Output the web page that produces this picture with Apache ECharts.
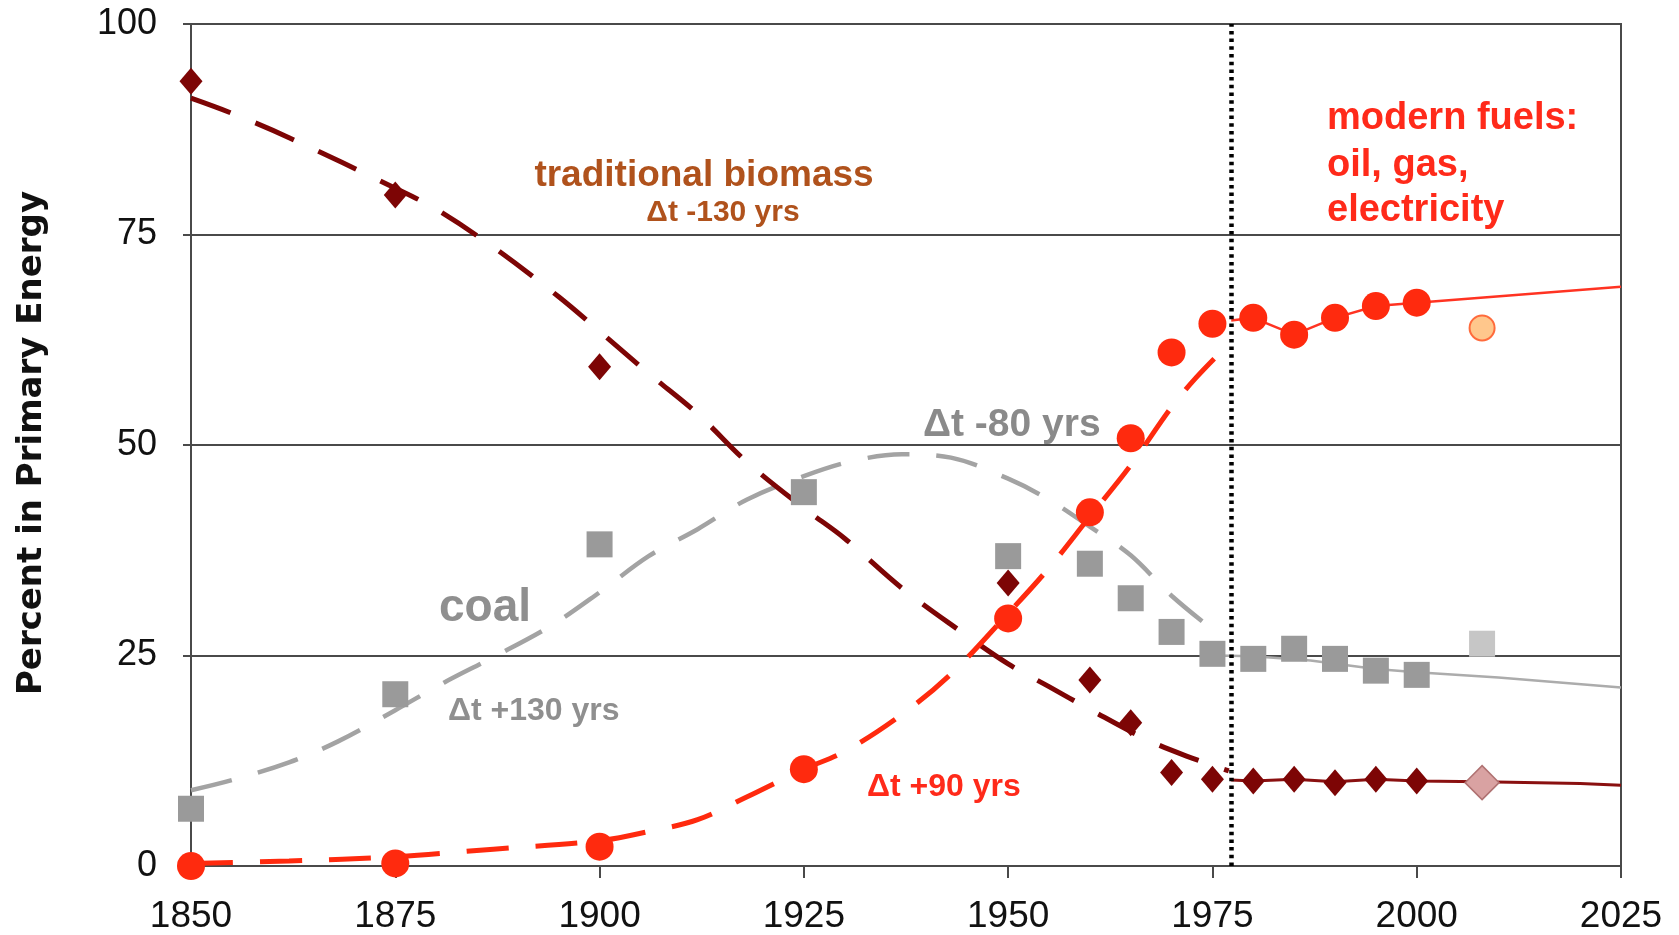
<!DOCTYPE html>
<html>
<head>
<meta charset="utf-8">
<script src="https://cdn.jsdelivr.net/npm/echarts@6/dist/echarts.min.js"></script>
<style>
html,body{margin:0;padding:0;background:#ffffff;}
#c{width:1679px;height:935px;}
</style>
</head>
<body>
<div id="c"></div>
<script>
// ---------- data ----------
const xTicks = [1850, 1875, 1900, 1925, 1950, 1975, 2000, 2025];
const yTicks = [0, 25, 50, 75, 100];

const obsYears   = [1850, 1875, 1900, 1925, 1950, 1960, 1965, 1970, 1975, 1980, 1985, 1990, 1995, 2000];
const biomassObs = [93.2, 79.7, 59.3, null, 33.6, 22.1, 17.0, 11.1, 10.3, 10.1, 10.3, 9.9, 10.3, 10.1];
const coalObs    = [6.8, 20.4, 38.2, 44.4, 36.8, 35.9, 31.8, 27.8, 25.2, 24.6, 25.8, 24.6, 23.2, 22.7];
const modernObs  = [0.0, 0.3, 2.3, 11.5, 29.4, 42.0, 50.8, 61.0, 64.4, 65.1, 63.1, 65.1, 66.5, 66.9];

const recentYears   = [2008];
const biomassRecent = [9.9];
const coalRecent    = [26.4];
const modernRecent  = [63.9];

const biomassFitYears = [1850, 1855, 1862, 1875, 1880, 1887, 1895, 1900, 1906, 1912, 1918, 1925, 1930, 1937, 1944, 1950, 1955, 1960, 1967, 1972, 1977];
const biomassFit      = [91.2, 89.4, 86.5, 80.5, 78.0, 73.5, 67.6, 63.5, 58.5, 53.7, 48.0, 42.5, 38.9, 33.0, 28.0, 24.0, 21.3, 18.6, 15.0, 13.0, 11.3];

const coalFitYears = [1850, 1855, 1862, 1868, 1875, 1881, 1887, 1894, 1900, 1906, 1912, 1918, 1925, 1931, 1937, 1943, 1950, 1955, 1960, 1965, 1970, 1975.5];
const coalFit      = [9.0, 10.2, 12.3, 14.8, 18.5, 21.8, 24.8, 28.5, 32.5, 36.8, 40.0, 43.5, 46.3, 48.1, 48.9, 48.5, 46.0, 43.5, 40.3, 36.9, 32.1, 27.7];

const modernFitYears = [1850, 1862, 1875, 1887, 1900, 1906, 1912, 1918, 1925, 1930, 1937, 1943, 1950, 1955, 1960, 1965, 1970, 1973, 1976.6];
const modernFit      = [0.3, 0.6, 1.1, 2.0, 3.0, 4.1, 5.5, 8.2, 11.5, 13.6, 18.0, 22.8, 30.0, 35.4, 41.5, 47.6, 54.5, 58.0, 61.6];

const biomassTailYears = [1977.3, 1980, 1985, 1990, 1995, 2000, 2008, 2020, 2025];
const biomassTail      = [10.2, 10.1, 10.3, 10.0, 10.3, 10.1, 10.0, 9.8, 9.6];

const coalTailYears = [1975.5, 1980, 1987, 1995, 2000, 2010, 2025];
const coalTail      = [25.0, 24.9, 24.4, 23.4, 23.0, 22.4, 21.2];

const modernTailYears = [1977.3, 1980, 1985, 1990, 1995, 2000, 2025];
const modernTail      = [64.8, 65.1, 63.1, 65.1, 66.5, 66.9, 68.8];

const dividerYear = 1977.3;

// ---------- styling ----------
const FONT = '"Liberation Sans", Arial, Helvetica, sans-serif';
const C_BIO = '#7d0505';
const C_COAL = '#9a9a9a';
const C_MOD = '#ff2a0e';
const AXIS_C = '#4a4a4a';

const pair = (xs, ys) => xs.map((x, i) => [x, ys[i]]).filter(p => p[1] !== null);

const chart = echarts.init(document.getElementById('c'), null, { renderer: 'canvas' });

const dashed = (name, xs, ys, color, width) => ({
  name, type: 'line', data: pair(xs, ys), smooth: 0.35, symbol: 'none', silent: true, z: 2,
  lineStyle: { color, width, type: [42, 27], cap: 'butt' }
});
const solid = (name, xs, ys, color, width) => ({
  name, type: 'line', data: pair(xs, ys), smooth: false, symbol: 'none', silent: true, z: 2,
  lineStyle: { color, width, type: 'solid' }
});
const points = (name, xs, ys, symbol, size, color, border, bw) => ({
  name, type: 'scatter', data: pair(xs, ys), symbol, symbolSize: size, silent: true, z: 4,
  itemStyle: { color, borderColor: border || color, borderWidth: bw || 0, opacity: 1 }
});

const txt = (text, x, y, size, color, align, weight) => ({
  type: 'text', x, y, silent: true, z: 20,
  style: {
    text, fill: color, align: align || 'left', verticalAlign: 'middle',
    font: (weight || 'bold') + ' ' + size + 'px ' + FONT
  }
});

chart.setOption({
  animation: false,
  backgroundColor: '#ffffff',
  grid: { left: 191, right: 58, top: 24, bottom: 68, show: true, borderColor: AXIS_C, borderWidth: 2, backgroundColor: 'transparent' },
  xAxis: {
    type: 'value', min: xTicks[0], max: xTicks[xTicks.length - 1], interval: 25,
    axisLine: { show: true, lineStyle: { color: AXIS_C, width: 2 } },
    axisTick: { show: true, inside: false, length: 12, lineStyle: { color: AXIS_C, width: 2 } },
    axisLabel: { show: true, margin: 32, color: '#111', fontSize: 37, fontFamily: FONT,
      formatter: v => (xTicks.indexOf(v) >= 0 ? String(v) : '') },
    splitLine: { show: false }
  },
  yAxis: {
    type: 'value', min: yTicks[0], max: yTicks[yTicks.length - 1], interval: 25,
    axisLine: { show: true, lineStyle: { color: AXIS_C, width: 2 } },
    axisTick: { show: true, inside: false, length: 8, lineStyle: { color: AXIS_C, width: 2 } },
    axisLabel: { show: true, margin: 34, color: '#111', fontSize: 36, fontFamily: FONT,
      formatter: v => (yTicks.indexOf(v) >= 0 ? String(v) : '') },
    splitLine: { show: true, lineStyle: { color: AXIS_C, width: 2 } }
  },
  series: [
    dashed('coal fit', coalFitYears, coalFit, '#a3a3a3', 4.5),
    dashed('biomass fit', biomassFitYears, biomassFit, C_BIO, 5),
    dashed('modern fit', modernFitYears, modernFit, C_MOD, 5),
    solid('coal trend', coalTailYears, coalTail, '#acacac', 2.5),
    solid('biomass trend', biomassTailYears, biomassTail, '#8a1010', 3),
    solid('modern trend', modernTailYears, modernTail, '#ff3322', 2.5),
    points('coal', obsYears, coalObs, 'rect', 26, C_COAL),
    points('biomass', obsYears, biomassObs, 'diamond', [23, 27], C_BIO),
    points('modern', obsYears, modernObs, 'circle', 28, C_MOD),
    points('coal recent', recentYears, coalRecent, 'rect', 26, '#c6c6c6'),
    points('biomass recent', recentYears, biomassRecent, 'diamond', 34, '#d9a2a2', '#b07272', 1.5),
    points('modern recent', recentYears, modernRecent, 'circle', 25, '#ffc78c', '#ff6b3c', 2),
    {
      name: 'divider', type: 'line', data: [], z: 10, silent: true,
      markLine: {
        silent: true, symbol: ['none', 'none'], label: { show: false },
        lineStyle: { color: '#000000', width: 4.5, type: [3.5, 4.2], cap: 'butt' },
        data: [{ xAxis: dividerYear }]
      }
    }
  ],
  graphic: [
    {
      type: 'text', x: 32, y: 443, rotation: Math.PI / 2, silent: true,
      style: { text: 'Percent in Primary Energy', fill: '#111', align: 'center', verticalAlign: 'middle',
        font: 'bold 34px "DejaVu Sans", ' + FONT }
    },
    txt('traditional biomass', 704, 176, 37, '#b0521c', 'center'),
    txt('\u0394t -130 yrs', 723, 213, 30, '#b0521c', 'center'),
    txt('\u0394t -80 yrs', 923, 425, 39, '#8a8a8a', 'left'),
    txt('coal', 439, 608, 46, '#8f8f8f', 'left'),
    txt('\u0394t +130 yrs', 448, 711, 32, '#8f8f8f', 'left'),
    txt('\u0394t +90 yrs', 867, 787, 32, '#ff2a1a', 'left'),
    txt('modern fuels:', 1327, 119, 38, '#ff2a1a', 'left'),
    txt('oil, gas,', 1327, 166, 38, '#ff2a1a', 'left'),
    txt('electricity', 1327, 211, 38, '#ff2a1a', 'left')
  ]
});
</script>
</body>
</html>
